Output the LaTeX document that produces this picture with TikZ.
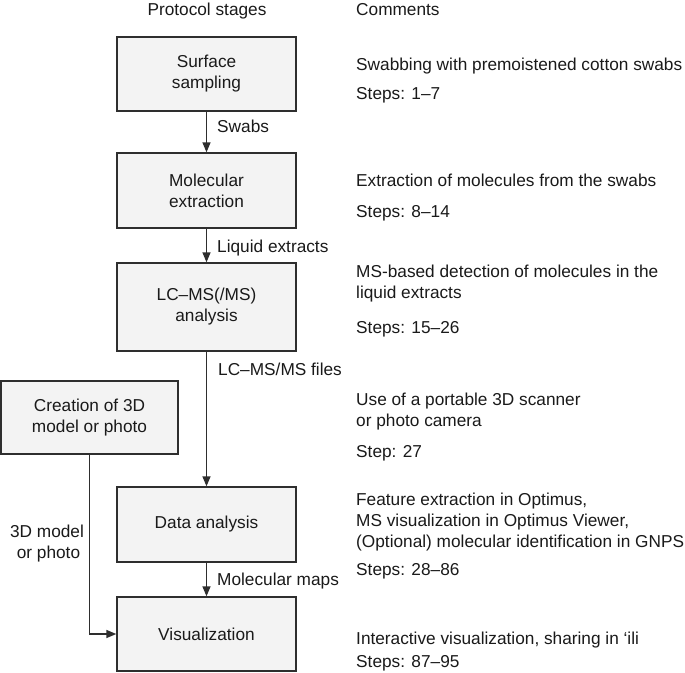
\documentclass[tikz,border=0pt]{standalone}
\usepackage{fontspec}
\setmainfont{Liberation Sans}
\usetikzlibrary{arrows.meta}
\definecolor{boxfill}{HTML}{F3F3F3}
\definecolor{linec}{HTML}{2E2E2E}
\definecolor{txt}{HTML}{1A1A1A}
\begin{document}
\begin{tikzpicture}[x=1pt,y=-1pt,
  every node/.style={font=\fontsize{17.25}{21}\selectfont, text=txt, inner sep=0pt},
  stage/.style={draw=linec, line width=1.4pt, fill=boxfill, minimum width=179pt, align=center},
  arr/.style={draw=linec, line width=1.4pt, -{Triangle[length=10pt,width=8pt]}},
  lbl/.style={anchor=base west},
  cmt/.style={anchor=base west},
]
\path[use as bounding box, fill=white] (0,0) rectangle (685,672);

% headers
\node[anchor=base] (h1) at (207,15) {Protocol stages};
\node[cmt] (h2) at (356,15) {Comments};

% stages
\node[stage, minimum height=74pt] (surf) at (206.5,74) {Surface\\sampling};
\node[stage, minimum height=75pt] (mol) at (206.5,190.5) {Molecular\\extraction};
\node[stage, minimum height=88pt] (lc) at (206.5,307) {LC–MS(/MS)\\analysis};
\node[stage, minimum width=177pt, minimum height=73pt] (cre) at (89.5,417.5) {Creation of 3D\\model or photo};
\node[stage, minimum height=75pt] (data) at (206.5,524.5) {Data analysis};
\node[stage, minimum height=74pt] (vis) at (206.5,634) {Visualization};

% connectors
\draw[arr] (surf) -- (mol);
\draw[arr] (mol) -- (lc);
\draw[arr] (lc) -- (data);
\draw[arr] (data) -- (vis);
\draw[arr] (cre) |- (vis);

% connector labels
\node[lbl] (l1) at (217,132.5) {Swabs};
\node[lbl] (l2) at (217,252.5) {Liquid extracts};
\node[lbl] (l3) at (218,375) {LC–MS/MS files};
\node[lbl] (l4) at (217,585) {Molecular maps};
\node[anchor=base] (l5a) at (47,537) {3D model};
\node[anchor=base] (l5b) at (48.5,558) {or photo};

% comments
\node[cmt] (c1a) at (356,70) {Swabbing with premoistened cotton swabs};
\node[cmt] (c1b) at (356,99) {Steps: 1–7};
\node[cmt] (c2a) at (356,186) {Extraction of molecules from the swabs};
\node[cmt] (c2b) at (356,217) {Steps: 8–14};
\node[cmt] (c3a) at (356,277) {MS-based detection of molecules in the};
\node[cmt] (c3b) at (356,298) {liquid extracts};
\node[cmt] (c3c) at (356,333) {Steps: 15–26};
\node[cmt] (c4a) at (356,405) {Use of a portable 3D scanner};
\node[cmt] (c4b) at (356,426) {or photo camera};
\node[cmt] (c4c) at (356,457) {Step: 27};
\node[cmt] (c5a) at (356,505) {Feature extraction in Optimus,};
\node[cmt] (c5b) at (356,526) {MS visualization in Optimus Viewer,};
\node[cmt] (c5c) at (356,547) {(Optional) molecular identification in GNPS};
\node[cmt] (c5d) at (356,575) {Steps: 28–86};
\node[cmt] (c6a) at (356,644) {Interactive visualization, sharing in `ili};
\node[cmt] (c6b) at (356,667) {Steps: 87–95};
\end{tikzpicture}
\end{document}
